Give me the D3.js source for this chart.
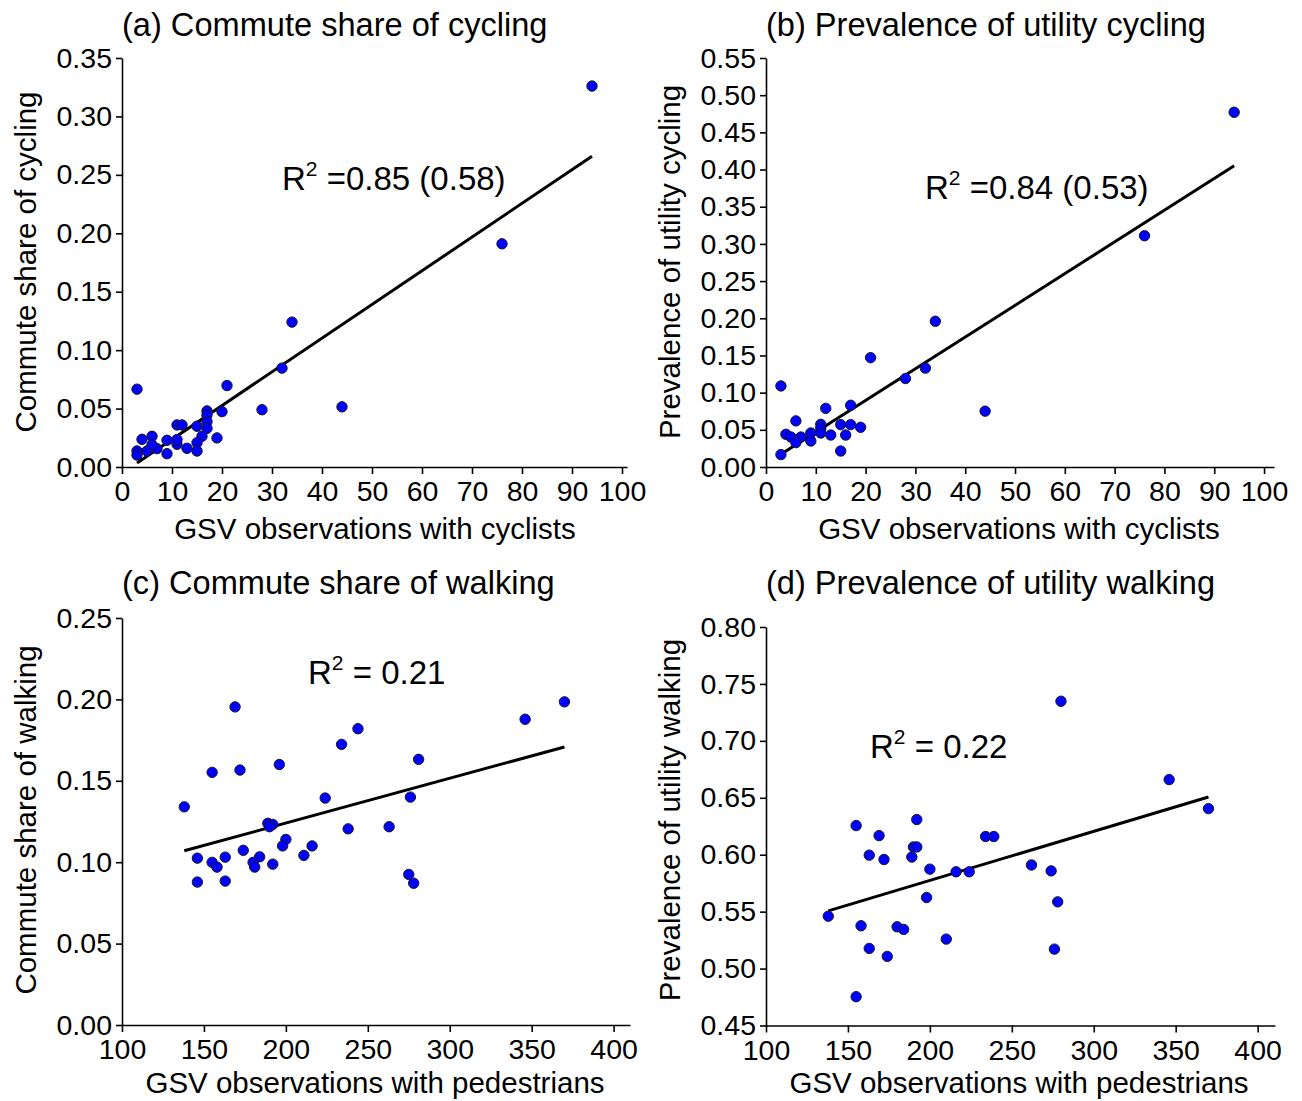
<!DOCTYPE html>
<html>
<head>
<meta charset="utf-8">
<script src="https://cdn.jsdelivr.net/npm/d3@7"></script>
<style>
  body { margin: 0; background: #fff; }
  svg { font-family: "Liberation Sans", Arial, sans-serif; }
</style>
</head>
<body>
<div id="chart"></div>
<script>
// ---- data ----
// (a) commute share of cycling vs GSV cyclists
const aX = [94, 76, 44, 34, 32, 3, 21, 20, 28, 17, 17, 17, 17, 15, 16, 19, 11, 12, 15, 15, 13, 11, 11, 9, 9, 7, 6, 4, 5, 3, 3, 6];
const aY = [0.326, 0.191, 0.0515, 0.124, 0.0846, 0.0666, 0.0697, 0.0474, 0.049, 0.048, 0.0446, 0.0389, 0.0331, 0.0349, 0.0263, 0.0249, 0.036, 0.036, 0.0208, 0.0137, 0.016, 0.0195, 0.0235, 0.0229, 0.0114, 0.0157, 0.0263, 0.0237, 0.0137, 0.0137, 0.0103, 0.019];
const aFit = [[3, 0.0035], [94, 0.266]];

// (b) prevalence of utility cycling vs GSV cyclists
const bX = [94, 76, 44, 34, 21, 32, 28, 3, 12, 17, 6, 11, 11, 15, 17, 19, 11, 9, 13, 16, 4, 5, 7, 6, 9, 15, 3];
const bY = [0.477, 0.311, 0.0751, 0.196, 0.147, 0.133, 0.119, 0.109, 0.0789, 0.083, 0.062, 0.0574, 0.052, 0.057, 0.057, 0.0534, 0.0457, 0.0457, 0.043, 0.043, 0.044, 0.0403, 0.0403, 0.0328, 0.035, 0.0215, 0.0167];
const bFit = [[3, 0.0171], [94, 0.405]];

// (c) commute share of walking vs GSV pedestrians
const cX = [370, 346, 169, 244, 234, 281, 196, 172, 155, 138, 224, 276, 189, 192, 190, 238, 263, 200, 198, 216, 174, 211, 163, 146, 184, 180, 155, 158, 181, 192, 146, 163, 275, 278];
const cY = [0.1985, 0.1878, 0.1954, 0.182, 0.1724, 0.1632, 0.160, 0.1566, 0.1552, 0.134, 0.1394, 0.140, 0.1239, 0.1232, 0.1218, 0.1205, 0.1218, 0.114, 0.110, 0.110, 0.1073, 0.1042, 0.1031, 0.1025, 0.1033, 0.0999, 0.0999, 0.097, 0.097, 0.0988, 0.0878, 0.0884, 0.0925, 0.0871];
const cFit = [[138, 0.107], [370, 0.1708]];

// (d) prevalence of utility walking vs GSV pedestrians
const dX = [280, 370, 346, 155, 192, 169, 234, 239, 163, 172, 190, 192, 189, 200, 216, 224, 262, 274, 278, 198, 138, 158, 180, 184, 210, 163, 174, 276, 155];
const dY = [0.7348, 0.6405, 0.666, 0.6256, 0.6309, 0.6168, 0.616, 0.616, 0.5996, 0.5958, 0.6068, 0.6068, 0.598, 0.5873, 0.585, 0.585, 0.591, 0.5858, 0.5586, 0.5624, 0.546, 0.5376, 0.5367, 0.5344, 0.5259, 0.5177, 0.5107, 0.5171, 0.4753];
const dFit = [[138, 0.5507], [370, 0.6507]];

// ticks
const cycTicks = [0, 10, 20, 30, 40, 50, 60, 70, 80, 90, 100];
const pedTicks = [100, 150, 200, 250, 300, 350, 400];
const aTicks = [0, 0.05, 0.10, 0.15, 0.20, 0.25, 0.30, 0.35];
const bTicks = [0, 0.05, 0.10, 0.15, 0.20, 0.25, 0.30, 0.35, 0.40, 0.45, 0.50, 0.55];
const cTicks = [0, 0.05, 0.10, 0.15, 0.20, 0.25];
const dTicks = [0.45, 0.50, 0.55, 0.60, 0.65, 0.70, 0.75, 0.80];

// ---- drawing ----
const svg = d3.select("#chart").append("svg")
    .attr("width", 1302)
    .attr("height", 1101);

function drawPanel(p) {
    const g = svg.append("g");

    // x: domain runs a bit past the last tick so the axis line overhangs like the figure
    const x = d3.scaleLinear().domain([p.xTicks[0], p.xEnd]).range([p.left, p.right]);
    const y = d3.scaleLinear().domain([p.yTicks[0], p.yTicks[p.yTicks.length - 1]]).range([p.bottom, p.top]);

    const xAxis = g.append("g")
        .attr("transform", "translate(0," + p.bottom + ")")
        .call(d3.axisBottom(x).tickValues(p.xTicks).tickFormat(d3.format("d")).tickSize(7).tickPadding(7).tickSizeOuter(0));
    const yAxis = g.append("g")
        .attr("transform", "translate(" + p.left + ",0)")
        .call(d3.axisLeft(y).tickValues(p.yTicks).tickFormat(d3.format(".2f")).tickSize(6).tickPadding(4).tickSizeOuter(0));

    [xAxis, yAxis].forEach(ax => {
        ax.attr("font-family", null);
        ax.selectAll("text").attr("font-size", 28.5).attr("fill", "#000");
        ax.selectAll("line").attr("stroke", "#000").attr("stroke-width", 1.6);
        ax.select(".domain").attr("stroke", "#000").attr("stroke-width", 1.6);
    });

    // fit line
    g.append("path")
        .datum(p.fit)
        .attr("d", d3.line().x(d => x(d[0])).y(d => y(d[1])))
        .attr("fill", "none")
        .attr("stroke", "#000")
        .attr("stroke-width", 3);

    // points
    g.append("g").selectAll("circle")
        .data(p.xs.map((v, i) => [v, p.ys[i]]))
        .join("circle")
        .attr("cx", d => x(d[0]))
        .attr("cy", d => y(d[1]))
        .attr("r", 5.2)
        .attr("fill", "#0000ff")
        .attr("stroke", "#1a1a1a")
        .attr("stroke-width", 1);

    // panel title
    g.append("text")
        .attr("x", p.left)
        .attr("y", p.titleY)
        .attr("font-size", 32.6)
        .text(p.title);

    // axis titles
    g.append("text")
        .attr("x", p.xTitleX)
        .attr("y", p.bottom + p.xTitleDy)
        .attr("text-anchor", "middle")
        .attr("font-size", 29.5)
        .text(p.xTitle);
    g.append("text")
        .attr("transform", "translate(" + (p.left - 86) + "," + p.yTitleY + ") rotate(-90)")
        .attr("text-anchor", "middle")
        .attr("font-size", 29.5)
        .text(p.yTitle);

    // R squared
    const r2 = g.append("text")
        .attr("x", p.r2[0])
        .attr("y", p.r2[1])
        .attr("font-size", 33);
    r2.append("tspan").text("R");
    r2.append("tspan").attr("font-size", 21).attr("dy", -14).text("2");
    r2.append("tspan").attr("dy", 14).text(p.r2Text);
}

drawPanel({
    xs: aX, ys: aY, fit: aFit, xTicks: cycTicks, yTicks: aTicks,
    left: 122, right: 627, xEnd: 101, bottom: 467, top: 58,
    title: "(a) Commute share of cycling", titleY: 36,
    xTitle: "GSV observations with cyclists", xTitleX: 375, xTitleDy: 72,
    yTitle: "Commute share of cycling", yTitleY: 262,
    r2: [282, 190], r2Text: " =0.85 (0.58)"
});
drawPanel({
    xs: bX, ys: bY, fit: bFit, xTicks: cycTicks, yTicks: bTicks,
    left: 766, right: 1274, xEnd: 102, bottom: 467, top: 58,
    title: "(b) Prevalence of utility cycling", titleY: 36,
    xTitle: "GSV observations with cyclists", xTitleX: 1019, xTitleDy: 72,
    yTitle: "Prevalence of utility cycling", yTitleY: 262,
    r2: [925, 199], r2Text: " =0.84 (0.53)"
});
drawPanel({
    xs: cX, ys: cY, fit: cFit, xTicks: pedTicks, yTicks: cTicks,
    left: 122, right: 630, xEnd: 410, bottom: 1025, top: 618,
    title: "(c) Commute share of walking", titleY: 594,
    xTitle: "GSV observations with pedestrians", xTitleX: 375, xTitleDy: 68,
    yTitle: "Commute share of walking", yTitleY: 820,
    r2: [308, 684], r2Text: " = 0.21"
});
drawPanel({
    xs: dX, ys: dY, fit: dFit, xTicks: pedTicks, yTicks: dTicks,
    left: 766, right: 1275, xEnd: 410.6, bottom: 1025.5, top: 627,
    title: "(d) Prevalence of utility walking", titleY: 594,
    xTitle: "GSV observations with pedestrians", xTitleX: 1019, xTitleDy: 67.5,
    yTitle: "Prevalence of utility walking", yTitleY: 820,
    r2: [870, 758], r2Text: " = 0.22"
});
</script>
</body>
</html>
